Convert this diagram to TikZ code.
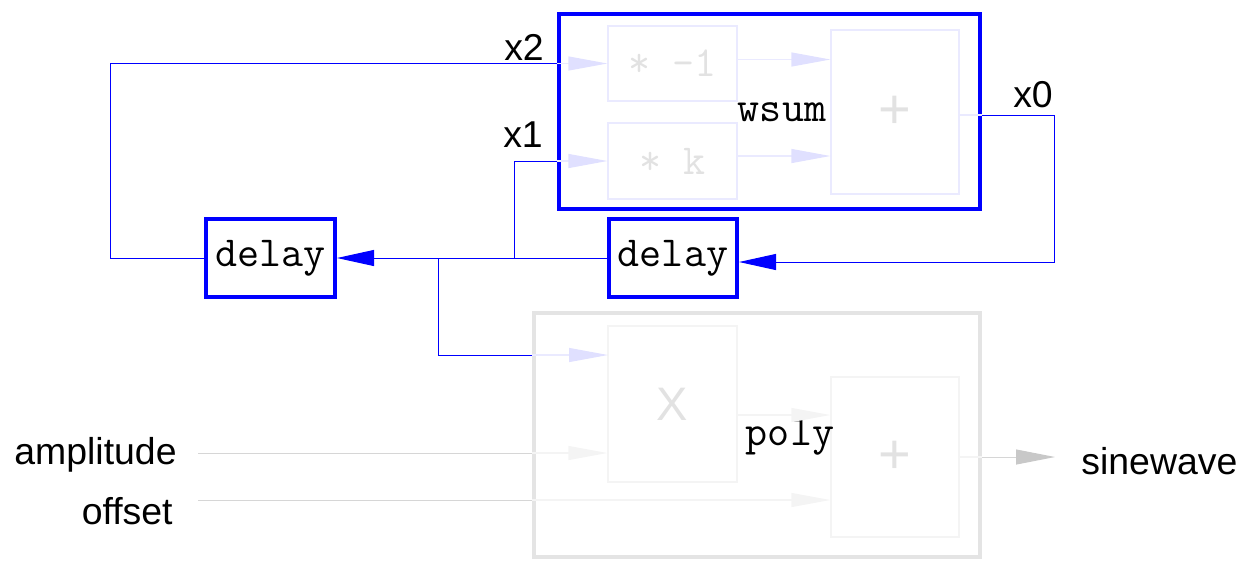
\documentclass[tikz,border=0pt]{standalone}
\usepackage{fontspec}
\setmainfont{Liberation Sans}
\usetikzlibrary{arrows.meta}

\definecolor{lav}{RGB}{224,224,255}
\definecolor{lavline}{RGB}{234,234,255}
\definecolor{lavtxt}{RGB}{226,226,226}
\definecolor{frame}{RGB}{228,228,228}
\definecolor{faint}{RGB}{244,244,244}
\definecolor{wire}{RGB}{214,214,214}
\definecolor{tipgray}{RGB}{200,200,200}

\begin{document}
\begin{tikzpicture}[x=0.5pt,y=-0.5pt,
		lbl/.style={font=\fontsize{18.7}{22}\selectfont,inner sep=0pt},
		mono/.style={font=\ttfamily\fontsize{21.4}{24}\selectfont},
		outer/.style={draw=blue,line width=2pt,inner sep=0pt},
		ghost/.style={draw=frame,line width=2pt,inner sep=0pt},
		inbox/.style={draw=lavline,line width=0.6pt,inner sep=0pt,text=lavtxt},
		fbox/.style={draw=faint,line width=0.6pt,inner sep=0pt,text=lavtxt},
		bline/.style={draw=blue,line width=0.5pt},
		barrow/.style={bline,-{Triangle[length=18.5pt,width=8pt,color=blue]}},
		larrow/.style={draw=lavline,line width=0.6pt,-{Triangle[length=19.5pt,width=7pt,color=lav]}},
		farrow/.style={draw=faint,line width=0.6pt,-{Triangle[length=19.5pt,width=7pt,color=faint]}},
		gline/.style={draw=wire,line width=0.5pt},
		garrow/.style={gline,-{Triangle[length=19.5pt,width=7.5pt,color=tipgray]}}]

		\useasboundingbox (0,0) rectangle (1240,564);

		\node[outer,minimum width=210.5pt,minimum height=97.5pt] (wsum) at (769.5,111.5) {};
		\node[inbox,mono,minimum width=64.5pt,minimum height=37.5pt] (neg) at (672.5,63.5) {* -1};
		\node[inbox,mono,minimum width=64.5pt,minimum height=38pt] (mulk) at (672.5,161) {* k};
		\node[inbox,minimum width=64pt,minimum height=82pt,font=\fontsize{28}{30}\selectfont] (sumw) at (895,112) {+};
		\node[mono] (wsumlbl) at (782,112) {wsum};

		\node[outer,mono,minimum width=64.5pt,minimum height=39pt] (d1) at (270.5,258) {delay};
		\node[outer,mono,minimum width=64pt,minimum height=39pt] (d2) at (673,258) {delay};

		\node[ghost,minimum width=223pt,minimum height=122pt] (poly) at (757,435) {};
		\node[fbox,minimum width=64.5pt,minimum height=78pt,font=\fontsize{23.5}{26}\selectfont] (mulx) at (672.5,404) {X};
		\node[fbox,minimum width=64pt,minimum height=80pt,font=\fontsize{28}{30}\selectfont] (sump) at (895,457) {+};
		\node[mono] (polylbl) at (790,437) {poly};

		\node[lbl] (x2) at (524,47) {x2};
		\node[lbl] (x1) at (523,135) {x1};
		\node[lbl] (x0) at (1033,95) {x0};
		\node[lbl,anchor=east] (amp) at (177,455) {amplitude};
		\node[lbl,anchor=east] (off) at (173,511) {offset};
		\node[lbl,anchor=west] (sine) at (1081,461) {sinewave};

		\coordinate (b1) at (514,258);
		\coordinate (b2) at (438,258);
		\coordinate (pin) at (608,355);
		\coordinate (ain) at (198,453);
		\coordinate (oin) at (198,500);
		\coordinate (sout) at (1055,457);

		\draw[bline] (d1.west) -- ++(-94,0) |- (neg.west -| wsum.west);
		\draw[larrow] (neg.west -| wsum.west) -- (neg.west);
		\draw[bline] (b1) |- (mulk.west -| wsum.west);
		\draw[larrow] (mulk.west -| wsum.west) -- (mulk.west);
		\draw[larrow] ([yshift=2pt]neg.east) -- ([yshift=2pt]neg.east -| sumw.west);
		\draw[larrow] ([yshift=2.5pt]mulk.east) -- ([yshift=2.5pt]mulk.east -| sumw.west);
		\draw[draw=lavline,line width=0.6pt] ([yshift=-1.5pt]sumw.east) -- ([yshift=-1.5pt]sumw.east -| wsum.east);
		\draw[barrow] ([yshift=-1.5pt]sumw.east -| wsum.east) -- ++(72,0) |- ([yshift=-2pt]d2.east);

		\draw[barrow] (d2.west) -- (d1.east);
		\draw[bline] (b2) |- (pin -| poly.west);
		\draw[larrow] (pin -| poly.west) -- (pin);

		\draw[gline] (ain) -- (ain -| poly.west);
		\draw[farrow] (ain -| poly.west) -- (ain -| mulx.west);
		\draw[gline] (oin) -- (oin -| poly.west);
		\draw[farrow] (oin -| poly.west) -- (oin -| sump.west);
		\draw[farrow] ([yshift=-5.5pt]mulx.east) -- ([yshift=-5.5pt]mulx.east -| sump.west);
		\draw[draw=faint,line width=0.6pt] (sump.east) -- (sump.east -| poly.east);
		\draw[garrow] (sump.east -| poly.east) -- (sout);

\end{tikzpicture}
\end{document}
